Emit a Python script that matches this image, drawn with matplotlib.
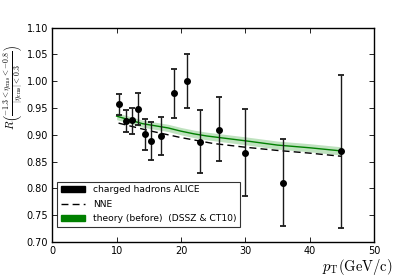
import matplotlib
matplotlib.use("Agg")
import matplotlib.pyplot as plt
from matplotlib.patches import Patch
from matplotlib.lines import Line2D
import numpy as np

plt.rcParams['mathtext.fontset'] = 'cm'
plt.rcParams['font.family'] = ['DejaVu Sans']

# data
pt = [10.4, 11.4, 12.4, 13.4, 14.4, 15.4, 16.9, 18.9, 20.9, 22.9, 25.9, 29.9, 35.9, 44.9]
R = [0.957, 0.926, 0.927, 0.949, 0.901, 0.889, 0.898, 0.978, 1.000, 0.887, 0.910, 0.867, 0.811, 0.870]
err_up = [0.977, 0.946, 0.951, 0.979, 0.929, 0.924, 0.933, 1.023, 1.051, 0.946, 0.970, 0.948, 0.892, 1.012]
err_lo = [0.937, 0.905, 0.901, 0.918, 0.872, 0.854, 0.862, 0.932, 0.950, 0.828, 0.851, 0.786, 0.730, 0.727]

th_pt = [10, 12, 14, 16, 18, 20, 22, 24, 26, 28, 30, 35, 40, 45]
th_R = [0.935, 0.928, 0.921, 0.917, 0.913, 0.907, 0.902, 0.898, 0.895, 0.892, 0.889, 0.881, 0.876, 0.870]
th_hw = [0.0065, 0.0065, 0.0066, 0.0067, 0.0068, 0.0069, 0.007, 0.0071, 0.0072, 0.0073, 0.0074, 0.0075, 0.0076, 0.0077]

nne_pt = [10.3, 15, 20, 25, 30, 35, 40, 45]
nne_R = [0.922, 0.908, 0.895, 0.884, 0.877, 0.871, 0.866, 0.860]

xticks = [0, 10, 20, 30, 40, 50]
yticks = [0.70, 0.75, 0.80, 0.85, 0.90, 0.95, 1.00, 1.05, 1.10]

fig = plt.figure(figsize=(4.15, 2.77), dpi=100)
ax = fig.add_axes([0.126, 0.126, 0.775, 0.774])

th_R_a = np.array(th_R)
th_hw_a = np.array(th_hw)
ax.fill_between(th_pt, th_R_a - th_hw_a, th_R_a + th_hw_a, color='#2ca02c', alpha=0.3, lw=0)
ax.plot(th_pt, th_R, color='green', lw=1.0)
ax.plot(nne_pt, nne_R, color='black', ls=(0, (5, 3)), lw=1.0)

R_a = np.array(R)
yerr = [R_a - np.array(err_lo), np.array(err_up) - R_a]
ax.errorbar(pt, R, yerr=yerr, fmt='o', color='black', ms=4, capsize=2.5, capthick=1.3,
            elinewidth=1.0, ecolor='#1a1a1a')

ax.set_xlim(0, 50)
ax.set_ylim(0.70, 1.10)
ax.set_xticks(xticks)
ax.set_yticks(yticks)
ax.set_yticklabels(['%.2f' % v for v in yticks])
ax.tick_params(direction='in', top=True, right=True, labelsize=7, length=3.5, width=0.6, pad=3)
for s in ax.spines.values():
    s.set_linewidth(1.0)

ax.set_xlabel(r'$p_{\rm T}({\rm GeV/c})$', fontsize=10.5)
ax.xaxis.set_label_coords(0.947, -0.07)
ax.set_ylabel(r'$R\left(\frac{-1.3<\eta_{\rm cms}<-0.8}{|\eta_{\rm cms}|<0.3}\right)$', fontsize=8)
ax.yaxis.set_label_coords(-0.085, 0.72)

handles = [Patch(facecolor='black', edgecolor='black'),
           Line2D([], [], color='black', ls=(0, (5, 3)), lw=1.0),
           Patch(facecolor='green', edgecolor='green')]
labels = ['charged hadrons ALICE', 'NNE', 'theory (before)  (DSSZ & CT10)']
leg = ax.legend(handles, labels, loc='lower left', bbox_to_anchor=(0.015, 0.07), fontsize=6.6,
                frameon=True, fancybox=False, borderaxespad=0.0, handlelength=2.6,
                labelspacing=0.6, borderpad=0.4, handletextpad=0.9)
leg.get_frame().set_edgecolor('black')
leg.get_frame().set_linewidth(0.8)

fig.savefig('out.png', dpi=100)
